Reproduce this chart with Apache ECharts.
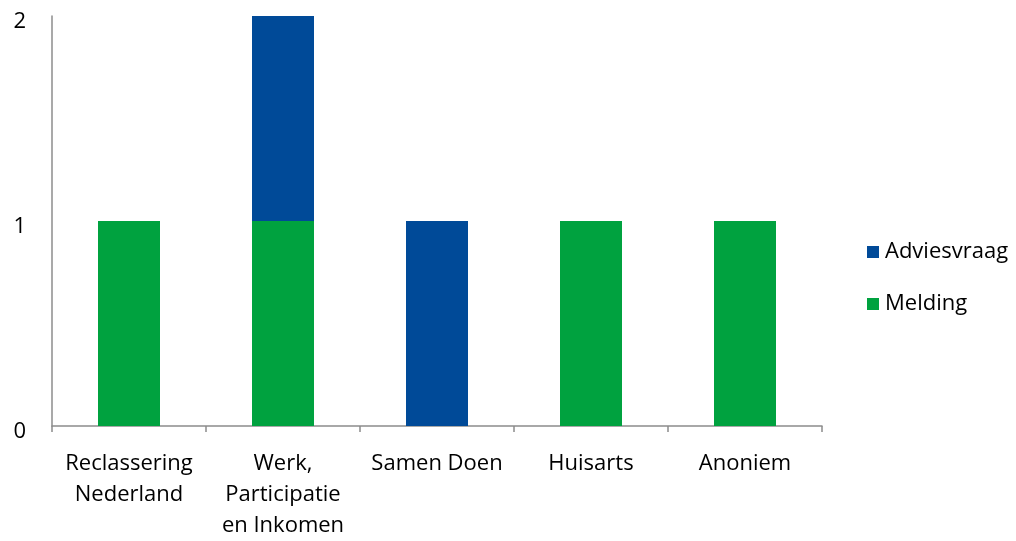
<!DOCTYPE html>
<html><head><meta charset="utf-8">
<script src="https://cdn.jsdelivr.net/npm/echarts@6/dist/echarts.min.js"></script>
<style>html,body{margin:0;padding:0;background:#fff}#c{width:1016px;height:541px}</style>
</head><body><div id="c"></div>
<script>
var categories = ['Reclassering\nNederland', 'Werk,\nParticipatie\nen Inkomen', 'Samen Doen', 'Huisarts', 'Anoniem'];
var melding = [1, 1, 0, 1, 1];
var adviesvraag = [0, 1, 1, 0, 0];
var yTicks = [0, 1, 2];

var chart = echarts.init(document.getElementById('c'));
var font = 'Open Sans';
chart.setOption({
  animation: false,
  grid: {left: 52, right: 194, top: 16, bottom: 109, containLabel: false},
  legend: {
    orient: 'vertical', left: 862, top: 236,
    data: ['Adviesvraag', 'Melding'],
    itemWidth: 12, itemHeight: 12, itemGap: 30, icon: 'rect',
    textStyle: {fontFamily: font, fontSize: 22, color: '#000', padding: [0,0,0,1]}
  },
  xAxis: {
    type: 'category', data: categories,
    axisLine: {lineStyle: {color: '#8c8c8c', width: 1.5}},
    axisTick: {show: true, alignWithLabel: false, length: 6, lineStyle: {color: '#8c8c8c', width: 1.5}},
    axisLabel: {fontFamily: font, fontSize: 22, color: '#000', lineHeight: 31, margin: 22, interval: 0}
  },
  yAxis: {
    type: 'value', min: 0, max: 2, interval: 1,
    axisLine: {show: true, lineStyle: {color: '#8c8c8c', width: 1.5}},
    axisTick: {show: false},
    splitLine: {show: false},
    axisLabel: {fontFamily: font, fontSize: 22, color: '#000', margin: 26,
      verticalAlign: 'top', lineHeight: 11,
      formatter: function (v) { return yTicks.indexOf(v) >= 0 ? String(v) : ''; }}
  },
  series: [
    {name: 'Melding', type: 'bar', stack: 's', data: melding, barWidth: 62,
     itemStyle: {color: '#00A23F'}},
    {name: 'Adviesvraag', type: 'bar', stack: 's', data: adviesvraag, barWidth: 62,
     itemStyle: {color: '#004A98'}}
  ]
});
</script></body></html>
